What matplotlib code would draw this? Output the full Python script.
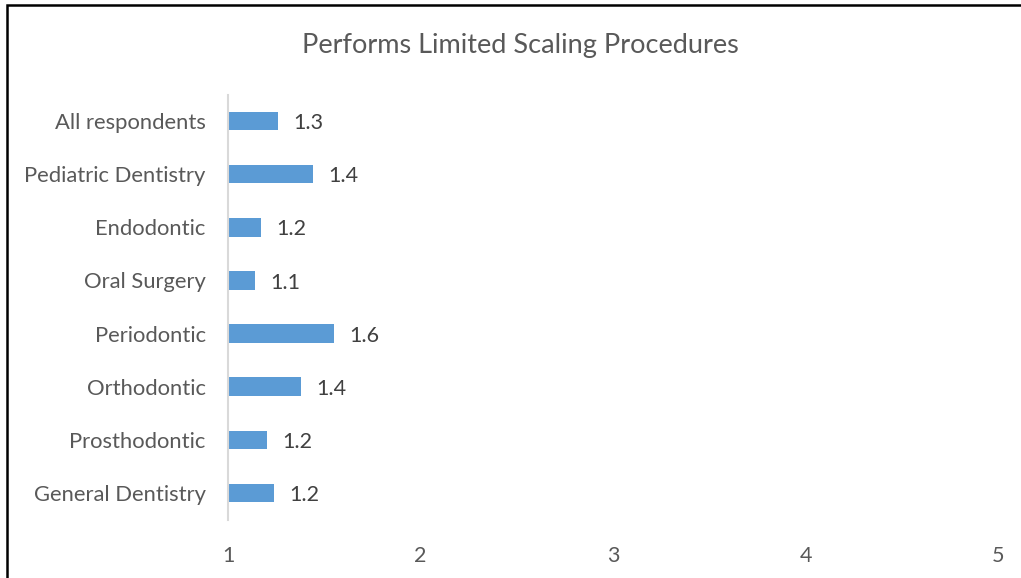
import matplotlib
matplotlib.use("Agg")
import matplotlib.pyplot as plt
from matplotlib.patches import Rectangle

categories = ["All respondents", "Pediatric Dentistry", "Endodontic", "Oral Surgery",
              "Periodontic", "Orthodontic", "Prosthodontic", "General Dentistry"]
values = [1.26, 1.44, 1.17, 1.14, 1.55, 1.38, 1.20, 1.24]
xticks = [1, 2, 3, 4, 5]
title = "Performs Limited Scaling Procedures"

W, H = 1021, 578
fig = plt.figure(figsize=(W / 100, H / 100), dpi=100)
plt.rcParams['font.family'] = ['Lato', 'DejaVu Sans']
txt = "#595959"

ax = fig.add_axes([228 / W, 1 - 519.5 / H, (998 - 228) / W, (519.5 - 94.5) / H])
ypos = list(range(len(categories)))
ax.barh(ypos, [v - 1 for v in values], left=1, height=0.35, color="#5B9BD5")
for y, v in zip(ypos, values):
    ax.text(v + 0.08, y + 0.04, f"{v:.1f}", va="center", ha="left", fontsize=15.5, color="#404040")

ax.set_xlim(1, 5)
ax.set_ylim(len(categories) - 0.5, -0.5)
ax.set_yticks(ypos)
ax.set_yticklabels(categories, fontsize=15.8, color=txt)
ax.set_xticks(xticks)
ax.set_xticklabels([str(t) for t in xticks], fontsize=15.5, color=txt)
ax.tick_params(axis="y", length=0, pad=16)
ax.tick_params(axis="x", length=0, pad=19)
for s in ["top", "right", "bottom"]:
    ax.spines[s].set_visible(False)
ax.spines["left"].set_color("#D9D9D9")
ax.spines["left"].set_linewidth(1.5)

fig.text(520 / W, 1 - 45 / H, title, ha="center", va="center", fontsize=19.5,
         color=txt)

fig.add_artist(Rectangle((6.5 / W, -0.1), 1.2, 1 - 5.5 / H + 0.1, transform=fig.transFigure,
                         fill=False, edgecolor="black", linewidth=1.8, clip_on=False))

fig.savefig("out.png", dpi=100)
